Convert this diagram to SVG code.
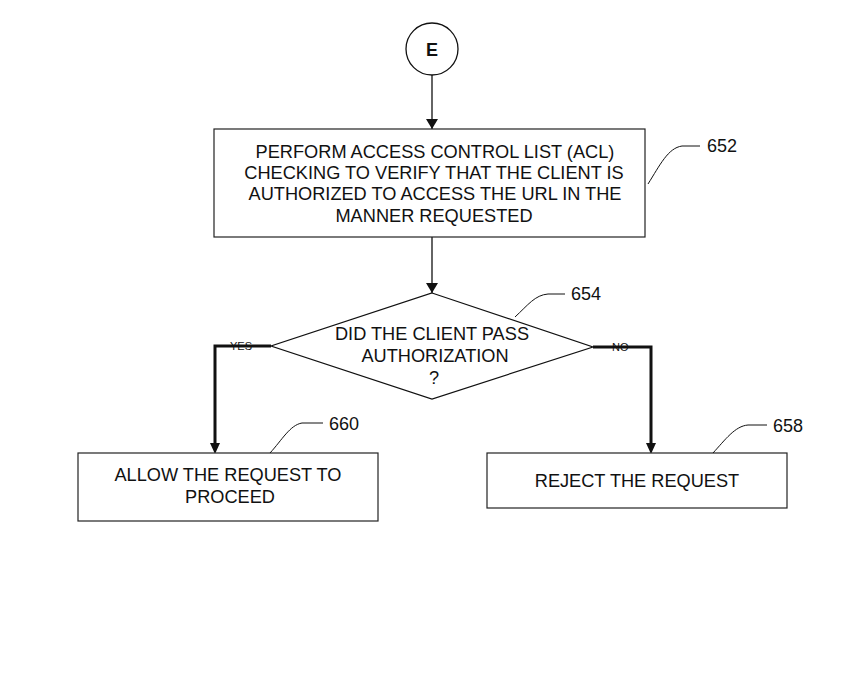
<svg xmlns="http://www.w3.org/2000/svg" width="851" height="684" viewBox="0 0 851 684">
<style>
.box{fill:#fff;stroke:#222;stroke-width:1.2}
.t{font-family:"Liberation Sans",Arial,sans-serif;font-size:18.2px;fill:#111;text-anchor:middle}
.lbl{font-family:"Liberation Sans",Arial,sans-serif;font-size:18px;fill:#111}
.sm{font-family:"Liberation Sans",Arial,sans-serif;font-size:11px;fill:#111}
.ln{fill:none;stroke:#111;stroke-width:1.3}
.thk{fill:none;stroke:#111;stroke-width:3}
.ld{fill:none;stroke:#111;stroke-width:1}
</style>
<defs>
<marker id="ah" viewBox="0 0 10 12" refX="10" refY="6" markerWidth="10" markerHeight="12" markerUnits="userSpaceOnUse" orient="auto">
<path d="M0,0 L10,6 L0,12 z" fill="#111"/>
</marker>
</defs>
<rect width="851" height="684" fill="#fff"/>
<g id="connectors">
<line class="ln" x1="432" y1="75" x2="432" y2="129" marker-end="url(#ah)"/>
<line class="ln" x1="432" y1="237" x2="432" y2="293" marker-end="url(#ah)"/>
<polyline class="thk" points="271,346 215,346 215,443"/>
<path d="M210,443 L220,443 L215,454 z" fill="#111"/>
<polyline class="thk" points="593,347 651,347 651,443"/>
<path d="M646,443 L656,443 L651,454 z" fill="#111"/>
<text class="sm" x="230" y="350">YES</text>
<text class="sm" x="612" y="351">NO</text>
</g>
<g id="nodeE">
<circle cx="432" cy="49" r="26" fill="#fff" stroke="#111" stroke-width="1.3"/>
<text class="t" x="432" y="56" style="font-weight:bold;font-size:18px">E</text>
</g>
<g id="node652">
<rect class="box" x="214" y="129" width="431" height="108"/>
<text class="t" x="435" y="158">PERFORM ACCESS CONTROL LIST (ACL)</text>
<text class="t" x="434" y="179">CHECKING TO VERIFY THAT THE CLIENT IS</text>
<text class="t" x="435" y="200">AUTHORIZED TO ACCESS THE URL IN THE</text>
<text class="t" x="434" y="222">MANNER REQUESTED</text>
<path class="ld" d="M648,184 C660,165 668,148 682,146 L700,146"/>
<text class="lbl" x="707" y="152">652</text>
</g>
<g id="node654">
<polygon points="432,293 593,347 432,399 271,346" fill="#fff" stroke="#111" stroke-width="1.2"/>
<text class="t" x="432" y="340">DID THE CLIENT PASS</text>
<text class="t" x="435" y="362">AUTHORIZATION</text>
<text class="t" x="434" y="384">?</text>
<path class="ld" d="M515,317 C528,305 535,295 548,294 L565,294"/>
<text class="lbl" x="571" y="300">654</text>
</g>
<g id="node660">
<rect class="box" x="78" y="453" width="300" height="68"/>
<text class="t" x="228" y="481">ALLOW THE REQUEST TO</text>
<text class="t" x="230" y="503">PROCEED</text>
<path class="ld" d="M270,453 C282,440 290,425 302,423 L323,423"/>
<text class="lbl" x="329" y="430">660</text>
</g>
<g id="node658">
<rect class="box" x="487" y="453" width="300" height="55"/>
<text class="t" x="637" y="487">REJECT THE REQUEST</text>
<path class="ld" d="M713,453 C725,440 735,426 748,425 L767,425"/>
<text class="lbl" x="773" y="432">658</text>
</g>
</svg>
